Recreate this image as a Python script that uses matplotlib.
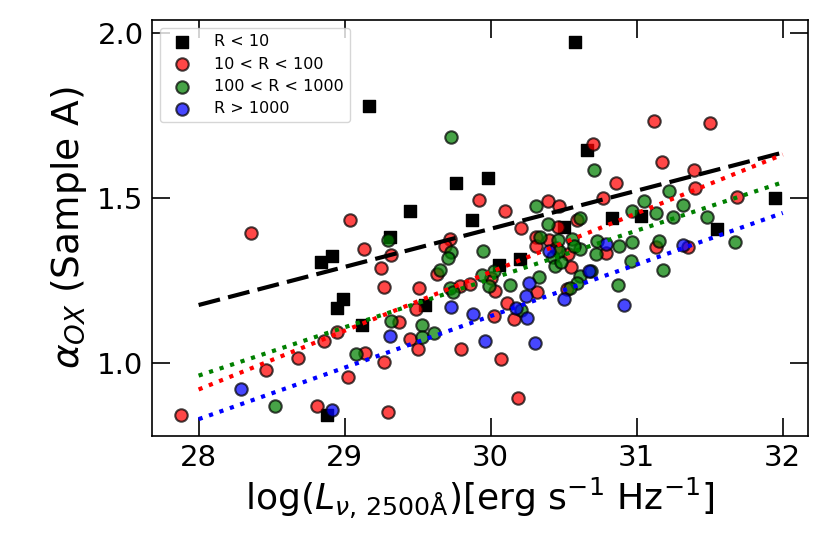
"""alpha_OX vs L_2500 for Sample A, split by radio loudness."""

import matplotlib
matplotlib.use('Agg')
import matplotlib.pyplot as plt
import numpy as np

# R < 10
black_x = [28.88, 28.84, 28.91, 28.95, 28.99, 29.12, 29.31, 29.55, 29.87, 29.45, 29.17,
           29.76, 29.98, 30.66, 30.58, 31.95, 31.03, 30.83, 31.55, 30.50, 30.06, 30.20]
black_y = [0.844, 1.305, 1.325, 1.168, 1.194, 1.115, 1.381, 1.176, 1.434, 1.460, 1.779,
           1.546, 1.560, 1.647, 1.972, 1.501, 1.447, 1.440, 1.406, 1.413, 1.298, 1.315]

# 10 < R < 100
red_x = [27.88, 28.36, 28.46, 28.68, 28.81, 29.04, 28.86, 28.95, 29.02, 29.13, 29.32,
         29.25, 29.27, 29.30, 29.27, 29.14, 29.37, 29.51, 29.49, 29.45, 29.50, 29.80,
         29.72, 29.69, 29.63, 29.79, 29.86, 29.92, 30.10, 30.21, 30.70, 31.12, 31.50,
         31.17, 30.86, 31.39, 31.40, 30.77, 31.69, 31.35, 31.13, 30.79, 30.46, 30.39,
         30.47, 30.59, 30.31, 30.40, 30.31, 30.45, 30.53, 30.55, 30.52, 30.00, 30.03,
         30.32, 30.11, 30.16, 30.02, 30.07, 30.19]
red_y = [0.844, 1.394, 0.978, 1.014, 0.869, 1.435, 1.067, 1.094, 0.957, 1.347, 1.328,
         1.287, 1.232, 0.852, 1.003, 1.031, 1.125, 1.229, 1.165, 1.072, 1.043, 1.042,
         1.376, 1.356, 1.270, 1.234, 1.239, 1.494, 1.462, 1.409, 1.663, 1.733, 1.727,
         1.609, 1.546, 1.584, 1.531, 1.501, 1.502, 1.353, 1.351, 1.335, 1.413, 1.490,
         1.477, 1.434, 1.381, 1.373, 1.356, 1.350, 1.330, 1.290, 1.224, 1.257, 1.219,
         1.216, 1.181, 1.133, 1.143, 1.011, 0.895]

# 100 < R < 1000
green_x = [28.52, 29.08, 29.30, 29.32, 29.53, 29.53, 29.61, 29.73, 29.71, 29.65, 29.72,
           29.74, 29.73, 30.71, 31.22, 31.05, 31.32, 30.97, 31.13, 31.25, 31.48, 31.67,
           31.15, 31.18, 30.97, 30.96, 30.88, 30.87, 30.73, 30.72, 30.39, 30.31, 30.61,
           30.34, 30.46, 30.56, 30.61, 30.57, 30.43, 30.44, 30.48, 30.61, 30.69, 30.59,
           30.54, 29.95, 29.94, 30.02, 29.99, 30.13, 30.33, 30.21, 30.47]
green_y = [0.869, 1.029, 1.373, 1.129, 1.116, 1.079, 1.092, 1.338, 1.317, 1.282, 1.229,
           1.214, 1.685, 1.586, 1.521, 1.492, 1.480, 1.462, 1.455, 1.444, 1.442, 1.366,
           1.369, 1.282, 1.366, 1.310, 1.356, 1.237, 1.371, 1.330, 1.422, 1.475, 1.440,
           1.381, 1.373, 1.376, 1.346, 1.354, 1.322, 1.295, 1.305, 1.264, 1.280, 1.244,
           1.229, 1.340, 1.267, 1.278, 1.234, 1.237, 1.260, 1.160, 1.340]

# R > 1000
blue_x = [28.29, 28.91, 29.31, 29.73, 29.88, 30.40, 30.67, 30.50, 31.32, 30.91, 30.79,
          30.26, 30.24, 30.17, 30.25, 29.96, 30.30]
blue_y = [0.920, 0.859, 1.082, 1.170, 1.148, 1.340, 1.278, 1.194, 1.359, 1.176, 1.361,
          1.244, 1.204, 1.166, 1.136, 1.067, 1.060]

# linear fits, evaluated at the ends of the range
fit_x = [28.0, 32.0]
black_fit = [1.176, 1.638]
red_fit = [0.920, 1.632]
green_fit = [0.962, 1.548]
blue_fit = [0.830, 1.455]

fig = plt.figure(figsize=(8.3, 5.54), dpi=100)
ax = fig.add_axes([0.183, 0.213, 0.790, 0.751])

ax.scatter(black_x, black_y, marker="s", s=85, color="black", label="R < 10", zorder=2)
ax.scatter(red_x, red_y, marker="o", s=80, color="red", edgecolors="black",
           linewidths=1.5, alpha=0.72, label="10 < R < 100", zorder=2)
ax.scatter(green_x, green_y, marker="o", s=80, color="green", edgecolors="black",
           linewidths=1.5, alpha=0.72, label="100 < R < 1000", zorder=2)
ax.scatter(blue_x, blue_y, marker="o", s=80, color="blue", edgecolors="black",
           linewidths=1.5, alpha=0.72, label="R > 1000", zorder=2)

ax.plot(fit_x, black_fit, color="black", linestyle=(0, (5.3, 2.0)), linewidth=3, zorder=3)
ax.plot(fit_x, red_fit, color="red", linestyle=":", linewidth=3, zorder=3)
ax.plot(fit_x, green_fit, color="green", linestyle=":", linewidth=3, zorder=3)
ax.plot(fit_x, blue_fit, color="blue", linestyle=":", linewidth=3, zorder=3)

ax.set_xlim(27.68, 32.17)
ax.set_ylim(0.779, 2.04)
ax.set_xticks([28, 29, 30, 31, 32])
ax.set_yticks([1.0, 1.5, 2.0])
ax.tick_params(direction="in", top=True, right=True, length=13, width=1.2,
               labelsize=21, pad=6)
for sp in ax.spines.values():
    sp.set_linewidth(1.2)

ax.set_xlabel(r"log($L_{\nu,\,\mathrm{2500\AA}}$)[erg s$^{-1}$ Hz$^{-1}$]",
              fontsize=26, labelpad=2)
ax.set_ylabel(r"$\alpha_{OX}$ (Sample A)", fontsize=27, labelpad=6)

ax.legend(loc="upper left", fontsize=11.5, borderaxespad=0.5, handletextpad=1.0,
          labelspacing=0.45)

plt.savefig("out.png", dpi=100)
